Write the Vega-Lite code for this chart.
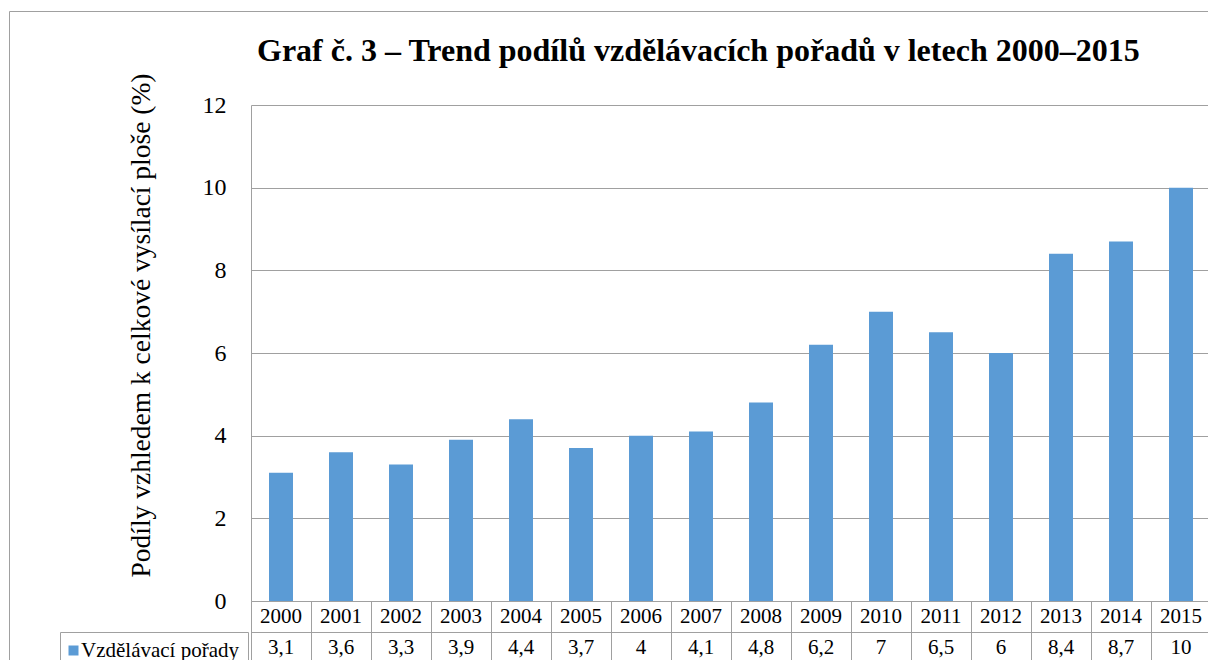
{
  "$schema": "https://vega.github.io/schema/vega-lite/v6.json",
  "background": "white",
  "padding": {"left": 8, "top": 10, "right": 0, "bottom": 0},
  "config": {
    "font": "Liberation Serif",
    "view": {"stroke": null},
    "locale": {"number": {"decimal": ",", "thousands": " ", "grouping": [3], "currency": ["", " Kč"]}}
  },
  "title": {
    "text": "Graf č. 3 – Trend podílů vzdělávacích pořadů v letech 2000–2015",
    "font": "Liberation Serif", "fontSize": 32, "fontWeight": "bold", "color": "black",
    "anchor": "start", "frame": "group", "dx": 6, "offset": -57.3
  },
  "datasets": {"d": [
    {"rok": "2000", "podil": 3.1},
    {"rok": "2001", "podil": 3.6},
    {"rok": "2002", "podil": 3.3},
    {"rok": "2003", "podil": 3.9},
    {"rok": "2004", "podil": 4.4},
    {"rok": "2005", "podil": 3.7},
    {"rok": "2006", "podil": 4},
    {"rok": "2007", "podil": 4.1},
    {"rok": "2008", "podil": 4.8},
    {"rok": "2009", "podil": 6.2},
    {"rok": "2010", "podil": 7},
    {"rok": "2011", "podil": 6.5},
    {"rok": "2012", "podil": 6},
    {"rok": "2013", "podil": 8.4},
    {"rok": "2014", "podil": 8.7},
    {"rok": "2015", "podil": 10}
  ]},
  "spacing": 0,
  "bounds": "flush",
  "resolve": {"scale": {"color": "independent", "opacity": "independent"}},
  "vconcat": [
    {
      "width": 960, "height": 496,
      "data": {"name": "d"},
      "mark": {"type": "bar", "color": "#5B9BD5"},
      "encoding": {
        "x": {"field": "rok", "type": "nominal", "sort": null, "scale": {"type": "band", "paddingInner": 0.6, "paddingOuter": 0.3}, "axis": null},
        "y": {"field": "podil", "type": "quantitative", "scale": {"domain": [0, 12], "nice": false}, "axis": {
          "values": [0, 2, 4, 6, 8, 10, 12], "format": "d",
          "title": "Podíly vzhledem k celkové vysílací ploše (%)",
          "titleFont": "Liberation Serif", "titleFontSize": 27.5, "titleFontWeight": "normal", "titleColor": "black",
          "titleX": -102, "titleY": 220, "titleAngle": 270, "titleBaseline": "alphabetic", "titleAlign": "center",
          "labelFont": "Liberation Serif", "labelFontSize": 24, "labelColor": "black", "labelPadding": 25,
          "ticks": false, "domain": true, "domainColor": "#A0A0A0", "grid": true, "gridColor": "#A0A0A0", "gridOpacity": 1
        }}
      }
    },
    {
      "width": 960, "height": 62,
      "data": {"name": "d"},
      "encoding": {
        "x": {"field": "rok", "type": "nominal", "sort": null, "scale": {"type": "band", "paddingInner": 0, "paddingOuter": 0},
          "axis": {"orient": "bottom", "grid": true, "tickBand": "extent", "gridColor": "#A0A0A0", "gridOpacity": 1, "labels": false, "ticks": false, "domain": false, "title": null}}
      },
      "layer": [
        {
          "mark": {"type": "text", "fontSize": 21, "font": "Liberation Serif", "color": "black"},
          "encoding": {
            "y": {"datum": "rok", "type": "nominal",
              "scale": {"type": "band", "domain": ["rok", "Vzdělávací pořady"], "paddingInner": 0, "paddingOuter": 0},
              "axis": {"orient": "left", "grid": true, "tickBand": "extent", "gridColor": "#A0A0A0", "gridOpacity": 1, "labels": false, "ticks": false, "domain": false, "title": null}},
            "text": {"field": "rok"}
          }
        },
        {
          "mark": {"type": "text", "fontSize": 21, "font": "Liberation Serif", "color": "black"},
          "encoding": {
            "y": {"datum": "Vzdělávací pořady", "type": "nominal"},
            "text": {"field": "podil", "type": "quantitative", "format": ".1~f"}
          }
        },
        {
          "mark": {"type": "square", "size": 0},
          "encoding": {
            "y": {"datum": "Vzdělávací pořady", "type": "nominal"},
            "color": {"datum": "Vzdělávací pořady", "type": "nominal", "scale": {"range": ["#5B9BD5"]},
              "legend": {"orient": "none", "legendX": -191, "legendY": 31, "title": null,
                "symbolType": "square", "symbolSize": 100, "symbolStrokeWidth": 0, "symbolFillColor": "#5B9BD5", "symbolOpacity": 1, "symbolOffset": -5,
                "labelFont": "Liberation Serif", "labelFontSize": 21, "labelColor": "black", "labelOffset": -3,
                "padding": 8, "strokeColor": "#A0A0A0", "fillColor": "white", "cornerRadius": 0}},
            "opacity": {"datum": "rámeček", "type": "ordinal", "scale": {"range": [1]},
              "legend": {"orient": "none", "legendX": -242, "legendY": -590, "title": null,
                "symbolSize": 0, "symbolOpacity": 0, "labelExpr": "''",
                "padding": 700, "strokeColor": "#A0A0A0", "fillColor": null, "cornerRadius": 0}}
          }
        }
      ]
    }
  ]
}
